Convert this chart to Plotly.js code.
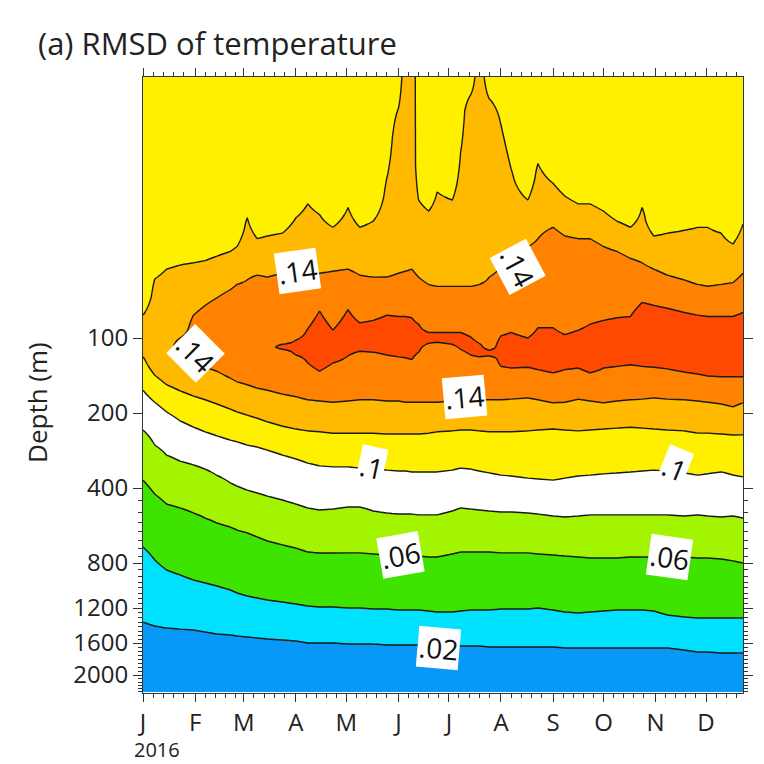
<!DOCTYPE html>
<html>
<head>
<meta charset="utf-8">
<script src="https://cdn.plot.ly/plotly-3.0.1.min.js"></script>
<style>html,body{margin:0;padding:0;background:#fff}#chart{width:764px;height:764px}</style>
</head>
<body>
<div id="chart"></div>
<script>
// ---------------- data ----------------
const dates = ['2016-01-01','2016-01-08','2016-01-15','2016-01-23','2016-01-31','2016-02-07','2016-02-14','2016-02-22','2016-02-26','2016-03-03','2016-03-09','2016-03-15','2016-03-24','2016-04-01','2016-04-08','2016-04-15','2016-04-23','2016-05-02','2016-05-09','2016-05-17','2016-05-25','2016-06-01','2016-06-05','2016-06-09','2016-06-13','2016-06-19','2016-06-24','2016-07-03','2016-07-08','2016-07-14','2016-07-19','2016-07-25','2016-08-01','2016-08-07','2016-08-17','2016-08-23','2016-09-01','2016-09-08','2016-09-16','2016-09-23','2016-10-01','2016-10-09','2016-10-17','2016-10-24','2016-10-31','2016-11-08','2016-11-18','2016-11-26','2016-12-02','2016-12-10','2016-12-17','2016-12-23'];

// RMSD in the surface layer and at the core of the maximum (deg C)
const surfaceRMSD = [0.11,0.11,0.11,0.11,0.11,0.11,0.11,0.11,0.11,0.11,0.11,0.11,0.11,0.11,0.11,0.11,0.11,0.11,0.11,0.11,0.11,0.11,0.13,0.13,0.11,0.11,0.11,0.11,0.11,0.11,0.13,0.11,0.11,0.11,0.11,0.11,0.11,0.11,0.11,0.11,0.11,0.11,0.11,0.11,0.11,0.11,0.11,0.11,0.11,0.11,0.11,0.11];
const peakRMSD = [0.13,0.13,0.13,0.15,0.15,0.15,0.15,0.15,0.15,0.15,0.15,0.15,0.17,0.17,0.17,0.17,0.17,0.17,0.17,0.17,0.17,0.17,0.17,0.17,0.17,0.17,0.17,0.17,0.17,0.17,0.17,0.17,0.17,0.17,0.17,0.17,0.17,0.17,0.17,0.17,0.17,0.17,0.17,0.17,0.17,0.17,0.17,0.17,0.17,0.17,0.17,0.17];
const bottomRMSD = 0.01;

// depth (m) where each contour is crossed going down (upper side of the maximum); null = not crossed
const upper12 = [81,58,53,51,50,49,47,45,43,33,40,39,38,33,29,32,36,30,36,34,23,12,null,null,28,31,26,28,18,10.6,null,11,14,21,28,20,24,27,29,29,31,34,36,30,39,38,37,36,36,38,42,35];
const upper14 = [null,null,null,100,81,74,69,64,61,58.5,56,57,55,55,55,55,54,53,56,57,57,55,54,53,57,61,62,62,62,62,61,57,52,49,43,40,36,39,40,40,43,45,48,50,53,56,58.5,61,62,61,60,55];
const upper16 = [null,null,null,null,null,null,null,null,null,null,null,null,106,102,92,78,93,77,87,85,81,82,82,83,88,95,95,95,95,99,105,112,98,95,100,91,91,97,93,88,85,83,82,72,74,76,79,81,82,82,82,79];
// depth (m) of each contour below the maximum
const lower16 = [null,null,null,null,null,null,null,null,null,null,null,null,111,117,126,136,126,118,113,114,117,119,120,122,114,105,104,106,111,117,119,118,130,132,131,134,138,134,132,138,132,130,128,130,131,133,137,139.5,142,143,143,143];
const lower14 = [null,null,null,117,125,131,136,145,150,154,159,162,168,172,177,179,181,179,177,177,179,179,181,181,181,181,181,179,179,177,177,177,177,176,174,177,182,181,176,179,182,179,177,176,174,176,177,179,181,184,189,182];
const lower12 = [119,141,154,163,171,177,184,193,198,204,210,217,226,232,236,238,241,241,241,241,243,243,243,243,243,241,238,236,234,234,236,238,238,238,236,234,232,234,236,234,232,230,228,230,232,234,236,241,241,243,245,245];
const lower10 = [162,181,198,215,228,238,247,257,261,269,274,282,295,306,318,326,329,329,333,333,339,342,342,345,345,345,345,339,333,336,342,348,355,358,365,368,372,365,358,355,351,348,345,342,339,342,348,355,351,345,355,361];
const lower08 = [234,269,295,312,323,336,356,382,393,408,419,431,447,464,481,490,486,477,477,495,504,509,509,509,513,513,513,495,481,486,490,495,499,499,504,509,518,523,518,513,513,513,513,513,513,513,518,513,518,523,518,528];
const lower06 = [372,423,464,481,504,528,553,574,590,606,629,653,677,697,723,729,729,729,729,736,743,743,743,750,750,757,757,736,723,723,723,723,729,729,729,736,743,750,757,764,764,764,757,757,757,757,757,764,764,771,785,800];
const lower04 = [690,778,852,891,932,958,984,1020,1048,1077,1097,1117,1137,1158,1179,1189,1189,1200,1200,1210,1210,1220,1220,1220,1220,1230,1240,1240,1230,1220,1220,1220,1210,1210,1210,1200,1220,1240,1250,1240,1230,1220,1220,1220,1230,1271,1292,1303,1303,1303,1303,1303];
const lower02 = [1347,1392,1415,1427,1438,1462,1486,1498,1511,1523,1536,1549,1561,1574,1600,1600,1600,1611,1611,1611,1622,1622,1622,1622,1622,1622,1622,1634,1634,1634,1634,1645,1645,1645,1645,1645,1645,1657,1657,1657,1657,1657,1657,1657,1657,1657,1680,1704,1704,1716,1716,1716];

const depthTicks = [100,200,400,800,1200,1600,2000];
const depthTickText = ['100','200','400','800','1200','1600','2000'];
const depthMinorTicks = [450,500,550,600,650,700,750,850,900,950,1000,1050,1100,1150,1250,1300,1350,1400,1450,1500,1550,1650,1700,1750,1800,1850,1900,1950,2050,2100,2150,2200,2250];
const monthStarts = ['2016-01-01','2016-02-01','2016-03-01','2016-04-01','2016-05-01','2016-06-01','2016-07-01','2016-08-01','2016-09-01','2016-10-01','2016-11-01','2016-12-01'];
const monthLetters = ['J','F','M','A','M','J','J','A','S','O','N','D'];
const yearLabel = '2016';

// ---------------- depth axis scale (stretched log) ----------------
const axisDepths = [9, 100, 800, 1200, 1600, 2000, 2267];
const axisPos    = [0, 261, 486, 531, 566, 598, 616];
function depthToAxis(d){
  if (d <= axisDepths[0]) return axisPos[0];
  for (let i = 1; i < axisDepths.length; i++){
    if (d <= axisDepths[i] || i === axisDepths.length - 1){
      const t = Math.log(d / axisDepths[i-1]) / Math.log(axisDepths[i] / axisDepths[i-1]);
      return axisPos[i-1] + t * (axisPos[i] - axisPos[i-1]);
    }
  }
}
const sTop = depthToAxis(axisDepths[0]);
const sBot = depthToAxis(axisDepths[axisDepths.length-1]);

// ---------------- build the grid the contour trace needs ----------------
// profile knots per column; near every contour crossing the gradient is kept the same on both
// sides so that the library draws straight segments between the read positions
function refine(knots){
  const extra = [];
  for (let k = 1; k < knots.length - 1; k++){
    if (knots[k][2] !== 'c') continue;
    const [s0, v0, t0] = knots[k-1], [s1, v1] = knots[k], [s2, v2, t2] = knots[k+1];
    const sl = Math.abs(v1 - v0) / Math.max(s1 - s0, 1e-6);
    const sr = Math.abs(v2 - v1) / Math.max(s2 - s1, 1e-6);
    if (sl < sr){
      const f = t0 === 'c' ? 0.45 : 0.9;
      const d = f * Math.abs(v1 - v0) / sr;
      extra.push([s1 - d, v1 + f * (v0 - v1)]);
    } else if (sr < sl){
      const f = t2 === 'c' ? 0.45 : 0.9;
      const d = f * Math.abs(v2 - v1) / sl;
      extra.push([s1 + d, v1 + f * (v2 - v1)]);
    }
  }
  return knots.map(k => [k[0], k[1]]).concat(extra).sort((a, b) => a[0] - b[0]);
}

const ys = [];
for (let s = sTop; s <= sBot + 1e-9; s += 1.5) ys.push(s);
const z = ys.map(() => new Array(dates.length));
for (let j = 0; j < dates.length; j++){
  const up = [[upper12[j],0.12],[upper14[j],0.14],[upper16[j],0.16]].filter(k => k[0] != null).map(k => [depthToAxis(k[0]), k[1], 'c']);
  const lo = [[lower16[j],0.16],[lower14[j],0.14],[lower12[j],0.12],[lower10[j],0.10],[lower08[j],0.08],[lower06[j],0.06],[lower04[j],0.04],[lower02[j],0.02]]
    .filter(k => k[0] != null).map(k => [depthToAxis(k[0]), k[1], 'c']);
  const sUp = up.length ? up[up.length-1][0] : sTop;
  const core = [(sUp + lo[0][0]) / 2, peakRMSD[j], 'n'];
  const knots = refine([[sTop, surfaceRMSD[j], 'n'], ...up, core, ...lo, [sBot, bottomRMSD, 'n']]);
  let k = 0;
  for (let i = 0; i < ys.length; i++){
    const s = ys[i];
    while (k < knots.length - 2 && s > knots[k+1][0]) k++;
    const a = knots[k], b = knots[k+1];
    const t = b[0] === a[0] ? 0 : Math.min(1, Math.max(0, (s - a[0]) / (b[0] - a[0])));
    z[i][j] = a[1] + t * (b[1] - a[1]);
  }
}

// discrete colours for the 9 bands (<.02, .02-.04, ..., >.16)
const bandColors = ['#0898f8','#00e0ff','#3ee400','#a2f400','#ffffff','#fff000','#ffba00','#ff8200','#ff4800'];
const nb = bandColors.length, nl = nb - 1;
const colorscale = [];
bandColors.forEach((c, i) => {
  const lo = i === 0 ? 0 : (i - 0.5) / nl;
  const hi = i === nb - 1 ? 1 : (i + 0.5) / nl;
  colorscale.push([lo, c]); colorscale.push([hi, c]);
});

const minorDates = [];
monthStarts.forEach(m => { [7,13,19,25].forEach(d => { const s = m.slice(0,8) + String(d).padStart(2,'0'); if (s <= '2016-12-23') minorDates.push(s); }); });

const trace = {
  type: 'contour', x: dates, y: ys, z: z,
  autocontour: false,
  contours: {start: 0.02, end: 0.16, size: 0.02, coloring: 'fill', showlines: true},
  colorscale: colorscale, showscale: false,
  line: {color: '#1a1a1a', width: 1.4, smoothing: 0},
  hoverinfo: 'skip'
};

const FONT = 'Open Sans, Noto Sans, sans-serif';
function lab(text, date, depth, angle){
  return {x: date, y: depthToAxis(depth), xref: 'x', yref: 'y', text: text, showarrow: false,
    textangle: angle, bgcolor: '#ffffff', borderpad: 1, font: {family: FONT, size: 28, color: '#111'}};
}

const layout = {
  width: 764, height: 764,
  margin: {l: 143, r: 21, t: 77, b: 71},
  paper_bgcolor: '#ffffff', plot_bgcolor: '#ffffff',
  font: {family: FONT, size: 25, color: '#222'},
  title: {text: '(a) RMSD of temperature', x: 38/764, xref: 'container', xanchor: 'left',
          y: 1 - 44/764, yref: 'container', yanchor: 'middle', font: {family: FONT, size: 31, color: '#222'}},
  showlegend: false,
  xaxis: {type: 'date', range: ['2016-01-01', '2016-12-23'], tickmode: 'array', tickvals: monthStarts, ticktext: monthLetters,
          ticks: 'outside', ticklen: 8, tickwidth: 1, tickcolor: '#333', showline: true, linecolor: '#333', linewidth: 1,
          mirror: 'ticks', showgrid: false, zeroline: false, tickfont: {size: 24},
          minor: {tickmode: 'array', tickvals: minorDates, ticks: 'outside', ticklen: 4, tickcolor: '#333', showgrid: false}},
  yaxis: {range: [sBot, sTop], tickmode: 'array', tickvals: depthTicks.map(depthToAxis), ticktext: depthTickText,
          ticks: 'outside', ticklen: 9, tickwidth: 1, tickcolor: '#333', showline: true, linecolor: '#333', linewidth: 1,
          mirror: 'ticks', showgrid: false, zeroline: false, tickfont: {size: 24},
          minor: {tickmode: 'array', tickvals: depthMinorTicks.map(depthToAxis), ticks: 'outside', ticklen: 4, tickcolor: '#333', showgrid: false}},
  annotations: [
    lab('.14', '2016-04-01 16:00', 54, -8),
    lab('.14', '2016-08-11', 52, 62),
    lab('.14', '2016-02-01', 115, 45),
    lab('.14', '2016-07-10', 172, -5),
    lab('.1', '2016-05-16', 329, 12),
    lab('.1', '2016-11-12', 333, 22),
    lab('.06', '2016-06-02', 743, -10),
    lab('.06', '2016-11-09', 757, 8),
    lab('.02', '2016-06-25', 1657, 5),
    {x: -0.0167, y: -(763.5 - 693) / 616, xref: 'paper', yref: 'paper', xanchor: 'left', yanchor: 'bottom', text: yearLabel,
     showarrow: false, borderpad: 0, font: {family: FONT, size: 20, color: '#222'}},
    {x: -0.1767, y: 0.4724, xref: 'paper', yref: 'paper', xanchor: 'center', yanchor: 'middle', text: 'Depth (m)',
     textangle: -90, showarrow: false, font: {family: FONT, size: 26, color: '#222'}}
  ]
};

Plotly.newPlot('chart', [trace], layout, {staticPlot: true, displayModeBar: false});
</script>
</body>
</html>
